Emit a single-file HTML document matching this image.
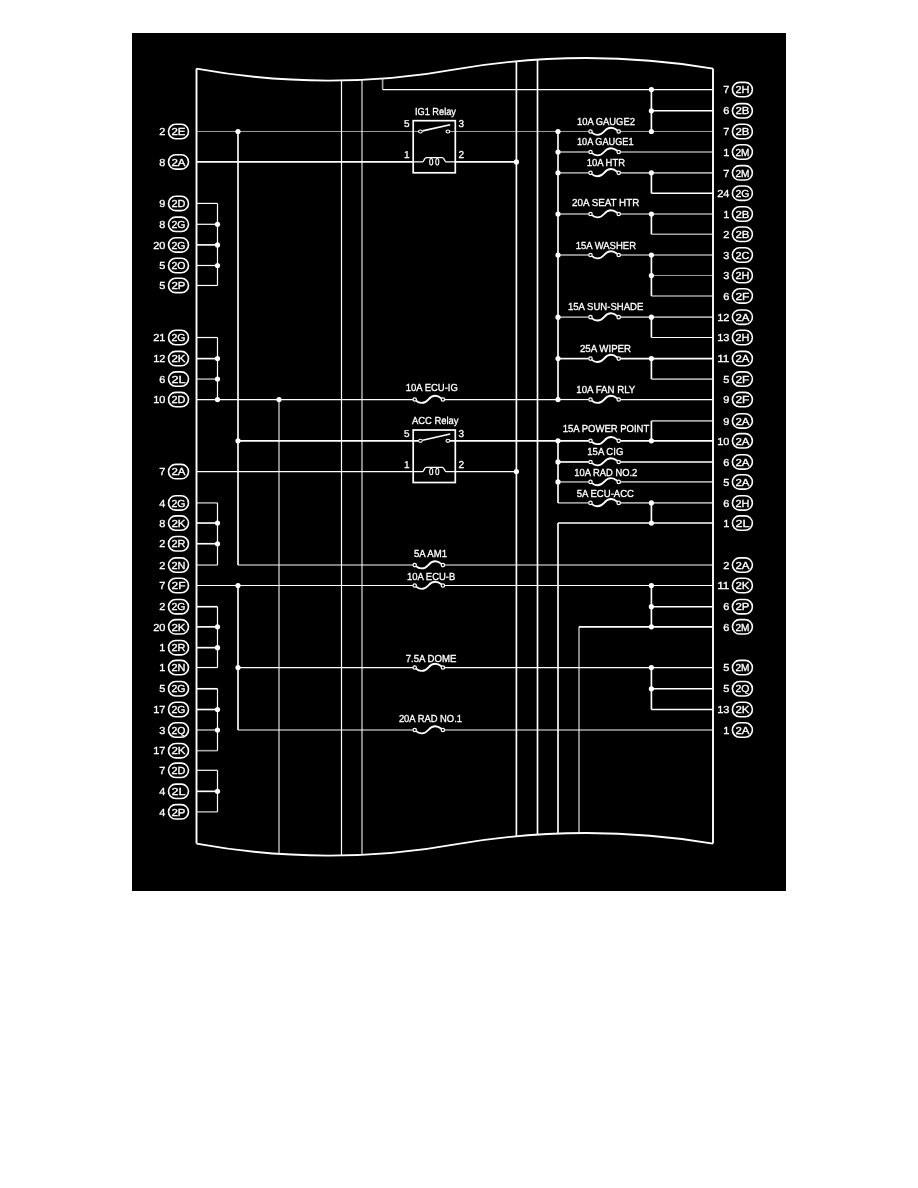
<!DOCTYPE html>
<html lang="en">
<head>
<meta charset="utf-8">
<title>Wiring Diagram</title>
<style>
html,body{margin:0;padding:0;background:#fff;}
body{width:918px;height:1188px;overflow:hidden;}
svg{display:block;position:absolute;left:0;top:0;}
svg{filter:grayscale(1);}
svg text{font-family:"Liberation Sans",Arial,Helvetica,sans-serif;fill:#fff;stroke:#fff;stroke-width:0.3px;text-rendering:geometricPrecision;}
</style>
</head>
<body>
<svg width="918" height="1188" viewBox="0 0 918 1188">
<rect x="132" y="33" width="654" height="858" fill="#000"/>
<path d="M196.5,68.6 C284.33,84.60 372.17,84.60 460.0,68.6 C544.33,54.50 628.67,54.50 713.0,68.6" fill="none" stroke="#fff" stroke-width="1.9"/>
<path d="M196.5,843.6 C284.33,859.60 372.17,859.60 460.0,843.6 C544.33,829.50 628.67,829.50 713.0,843.6" fill="none" stroke="#fff" stroke-width="1.9"/>
<line x1="196.5" y1="68.6" x2="196.5" y2="843.6" stroke="#fff" stroke-width="1.9"/>
<line x1="713.0" y1="68.6" x2="713.0" y2="843.6" stroke="#fff" stroke-width="1.9"/>
<line x1="279.0" y1="399.55" x2="279.0" y2="853.92" stroke="#fff" stroke-width="1.6" stroke-opacity="0.66"/>
<line x1="341.5" y1="80.48" x2="341.5" y2="855.48" stroke="#fff" stroke-width="1.2"/>
<line x1="362.0" y1="79.81" x2="362.0" y2="854.81" stroke="#fff" stroke-width="1.6" stroke-opacity="0.66"/>
<line x1="516.4" y1="61.27" x2="516.4" y2="836.27" stroke="#fff" stroke-width="1.65"/>
<line x1="537.5" y1="59.61" x2="537.5" y2="834.61" stroke="#fff" stroke-width="1.65"/>
<line x1="558.0" y1="523.04" x2="558.0" y2="833.56" stroke="#fff" stroke-width="1.65"/>
<line x1="579.0" y1="626.87" x2="579.0" y2="833.06" stroke="#fff" stroke-width="1.6" stroke-opacity="0.66"/>
<line x1="382.6" y1="78.56" x2="382.6" y2="89.55" stroke="#fff" stroke-width="1.6" stroke-opacity="0.66"/>
<line x1="382.6" y1="89.55" x2="713.0" y2="89.55" stroke="#fff" stroke-width="1.2"/>
<line x1="238.0" y1="131.48" x2="238.0" y2="565.06" stroke="#fff" stroke-width="1.65"/>
<line x1="238.0" y1="585.48" x2="238.0" y2="729.98" stroke="#fff" stroke-width="1.65"/>
<line x1="558.0" y1="131.48" x2="558.0" y2="399.55" stroke="#fff" stroke-width="1.65"/>
<line x1="558.0" y1="440.81" x2="558.0" y2="502.89" stroke="#fff" stroke-width="1.65"/>
<line x1="196.5" y1="131.48" x2="418.4" y2="131.48" stroke="#fff" stroke-width="1.0" stroke-opacity="0.62"/>
<line x1="449.9" y1="131.48" x2="588.7" y2="131.48" stroke="#fff" stroke-width="1.0" stroke-opacity="0.62"/>
<line x1="620.5" y1="131.48" x2="713.0" y2="131.48" stroke="#fff" stroke-width="1.0" stroke-opacity="0.62"/>
<circle cx="590.5" cy="131.48" r="1.7" fill="none" stroke="#fff" stroke-width="1.25"/>
<circle cx="618.7" cy="131.48" r="1.7" fill="none" stroke="#fff" stroke-width="1.25"/>
<path d="M592.00,132.68 C594.70,135.38 600.10,136.18 604.10,131.48 C608.00,126.98 612.50,126.48 617.20,130.28" fill="none" stroke="#fff" stroke-width="1.85"/>
<line x1="196.5" y1="161.89" x2="413.2" y2="161.89" stroke="#fff" stroke-width="1.65"/>
<line x1="455.3" y1="161.89" x2="516.4" y2="161.89" stroke="#fff" stroke-width="1.65"/>
<line x1="196.5" y1="399.55" x2="412.9" y2="399.55" stroke="#fff" stroke-width="1.2"/>
<line x1="444.70000000000005" y1="399.55" x2="558.0" y2="399.55" stroke="#fff" stroke-width="1.2"/>
<circle cx="414.7" cy="399.55" r="1.7" fill="none" stroke="#fff" stroke-width="1.25"/>
<circle cx="442.90000000000003" cy="399.55" r="1.7" fill="none" stroke="#fff" stroke-width="1.25"/>
<path d="M416.20,400.75 C418.90,403.45 424.30,404.25 428.30,399.55 C432.20,395.05 436.70,394.55 441.40,398.35" fill="none" stroke="#fff" stroke-width="1.85"/>
<line x1="558.0" y1="399.55" x2="588.7" y2="399.55" stroke="#fff" stroke-width="1.2"/>
<line x1="620.5" y1="399.55" x2="713.0" y2="399.55" stroke="#fff" stroke-width="1.2"/>
<circle cx="590.5" cy="399.55" r="1.7" fill="none" stroke="#fff" stroke-width="1.25"/>
<circle cx="618.7" cy="399.55" r="1.7" fill="none" stroke="#fff" stroke-width="1.25"/>
<path d="M592.00,400.75 C594.70,403.45 600.10,404.25 604.10,399.55 C608.00,395.05 612.50,394.55 617.20,398.35" fill="none" stroke="#fff" stroke-width="1.85"/>
<line x1="238.0" y1="440.81" x2="418.4" y2="440.81" stroke="#fff" stroke-width="1.65"/>
<line x1="449.9" y1="440.81" x2="588.7" y2="440.81" stroke="#fff" stroke-width="1.65"/>
<line x1="620.5" y1="440.81" x2="713.0" y2="440.81" stroke="#fff" stroke-width="1.65"/>
<circle cx="590.5" cy="440.81" r="1.7" fill="none" stroke="#fff" stroke-width="1.25"/>
<circle cx="618.7" cy="440.81" r="1.7" fill="none" stroke="#fff" stroke-width="1.25"/>
<path d="M592.00,442.01 C594.70,444.71 600.10,445.51 604.10,440.81 C608.00,436.31 612.50,435.81 617.20,439.61" fill="none" stroke="#fff" stroke-width="1.85"/>
<line x1="196.5" y1="471.62" x2="413.2" y2="471.62" stroke="#fff" stroke-width="1.2"/>
<line x1="455.3" y1="471.62" x2="516.4" y2="471.62" stroke="#fff" stroke-width="1.2"/>
<line x1="238.0" y1="565.06" x2="412.9" y2="565.06" stroke="#fff" stroke-width="1.6" stroke-opacity="0.66"/>
<line x1="444.70000000000005" y1="565.06" x2="713.0" y2="565.06" stroke="#fff" stroke-width="1.6" stroke-opacity="0.66"/>
<circle cx="414.7" cy="565.06" r="1.7" fill="none" stroke="#fff" stroke-width="1.25"/>
<circle cx="442.90000000000003" cy="565.06" r="1.7" fill="none" stroke="#fff" stroke-width="1.25"/>
<path d="M416.20,566.26 C418.90,568.96 424.30,569.76 428.30,565.06 C432.20,560.56 436.70,560.06 441.40,563.86" fill="none" stroke="#fff" stroke-width="1.85"/>
<line x1="196.5" y1="585.48" x2="412.9" y2="585.48" stroke="#fff" stroke-width="1.2"/>
<line x1="444.70000000000005" y1="585.48" x2="713.0" y2="585.48" stroke="#fff" stroke-width="1.2"/>
<circle cx="414.7" cy="585.48" r="1.7" fill="none" stroke="#fff" stroke-width="1.25"/>
<circle cx="442.90000000000003" cy="585.48" r="1.7" fill="none" stroke="#fff" stroke-width="1.25"/>
<path d="M416.20,586.68 C418.90,589.38 424.30,590.18 428.30,585.48 C432.20,580.98 436.70,580.48 441.40,584.28" fill="none" stroke="#fff" stroke-width="1.85"/>
<line x1="579.0" y1="626.87" x2="713.0" y2="626.87" stroke="#fff" stroke-width="1.65"/>
<line x1="238.0" y1="667.54" x2="412.9" y2="667.54" stroke="#fff" stroke-width="1.2"/>
<line x1="444.70000000000005" y1="667.54" x2="713.0" y2="667.54" stroke="#fff" stroke-width="1.2"/>
<circle cx="414.7" cy="667.54" r="1.7" fill="none" stroke="#fff" stroke-width="1.25"/>
<circle cx="442.90000000000003" cy="667.54" r="1.7" fill="none" stroke="#fff" stroke-width="1.25"/>
<path d="M416.20,668.74 C418.90,671.44 424.30,672.24 428.30,667.54 C432.20,663.04 436.70,662.54 441.40,666.34" fill="none" stroke="#fff" stroke-width="1.85"/>
<line x1="238.0" y1="729.98" x2="412.9" y2="729.98" stroke="#fff" stroke-width="1.6" stroke-opacity="0.66"/>
<line x1="444.70000000000005" y1="729.98" x2="713.0" y2="729.98" stroke="#fff" stroke-width="1.6" stroke-opacity="0.66"/>
<circle cx="414.7" cy="729.98" r="1.7" fill="none" stroke="#fff" stroke-width="1.25"/>
<circle cx="442.90000000000003" cy="729.98" r="1.7" fill="none" stroke="#fff" stroke-width="1.25"/>
<path d="M416.20,731.18 C418.90,733.88 424.30,734.68 428.30,729.98 C432.20,725.48 436.70,724.98 441.40,728.78" fill="none" stroke="#fff" stroke-width="1.85"/>
<line x1="558.0" y1="151.99" x2="588.7" y2="151.99" stroke="#fff" stroke-width="1.6" stroke-opacity="0.66"/>
<line x1="620.5" y1="151.99" x2="713.0" y2="151.99" stroke="#fff" stroke-width="1.6" stroke-opacity="0.66"/>
<circle cx="590.5" cy="151.99" r="1.7" fill="none" stroke="#fff" stroke-width="1.25"/>
<circle cx="618.7" cy="151.99" r="1.7" fill="none" stroke="#fff" stroke-width="1.25"/>
<path d="M592.00,153.19 C594.70,155.89 600.10,156.69 604.10,151.99 C608.00,147.49 612.50,146.99 617.20,150.79" fill="none" stroke="#fff" stroke-width="1.85"/>
<line x1="558.0" y1="172.87" x2="588.7" y2="172.87" stroke="#fff" stroke-width="1.6" stroke-opacity="0.66"/>
<line x1="620.5" y1="172.87" x2="713.0" y2="172.87" stroke="#fff" stroke-width="1.6" stroke-opacity="0.66"/>
<circle cx="590.5" cy="172.87" r="1.7" fill="none" stroke="#fff" stroke-width="1.25"/>
<circle cx="618.7" cy="172.87" r="1.7" fill="none" stroke="#fff" stroke-width="1.25"/>
<path d="M592.00,174.07 C594.70,176.77 600.10,177.57 604.10,172.87 C608.00,168.37 612.50,167.87 617.20,171.67" fill="none" stroke="#fff" stroke-width="1.85"/>
<line x1="558.0" y1="213.99" x2="588.7" y2="213.99" stroke="#fff" stroke-width="1.6" stroke-opacity="0.66"/>
<line x1="620.5" y1="213.99" x2="713.0" y2="213.99" stroke="#fff" stroke-width="1.6" stroke-opacity="0.66"/>
<circle cx="590.5" cy="213.99" r="1.7" fill="none" stroke="#fff" stroke-width="1.25"/>
<circle cx="618.7" cy="213.99" r="1.7" fill="none" stroke="#fff" stroke-width="1.25"/>
<path d="M592.00,215.19 C594.70,217.89 600.10,218.69 604.10,213.99 C608.00,209.49 612.50,208.99 617.20,212.79" fill="none" stroke="#fff" stroke-width="1.85"/>
<line x1="558.0" y1="255.01" x2="588.7" y2="255.01" stroke="#fff" stroke-width="1.6" stroke-opacity="0.66"/>
<line x1="620.5" y1="255.01" x2="713.0" y2="255.01" stroke="#fff" stroke-width="1.6" stroke-opacity="0.66"/>
<circle cx="590.5" cy="255.01" r="1.7" fill="none" stroke="#fff" stroke-width="1.25"/>
<circle cx="618.7" cy="255.01" r="1.7" fill="none" stroke="#fff" stroke-width="1.25"/>
<path d="M592.00,256.21 C594.70,258.91 600.10,259.71 604.10,255.01 C608.00,250.51 612.50,250.01 617.20,253.81" fill="none" stroke="#fff" stroke-width="1.85"/>
<line x1="558.0" y1="317.14" x2="588.7" y2="317.14" stroke="#fff" stroke-width="1.6" stroke-opacity="0.66"/>
<line x1="620.5" y1="317.14" x2="713.0" y2="317.14" stroke="#fff" stroke-width="1.6" stroke-opacity="0.66"/>
<circle cx="590.5" cy="317.14" r="1.7" fill="none" stroke="#fff" stroke-width="1.25"/>
<circle cx="618.7" cy="317.14" r="1.7" fill="none" stroke="#fff" stroke-width="1.25"/>
<path d="M592.00,318.34 C594.70,321.04 600.10,321.84 604.10,317.14 C608.00,312.64 612.50,312.14 617.20,315.94" fill="none" stroke="#fff" stroke-width="1.85"/>
<line x1="558.0" y1="358.62" x2="588.7" y2="358.62" stroke="#fff" stroke-width="1.65"/>
<line x1="620.5" y1="358.62" x2="713.0" y2="358.62" stroke="#fff" stroke-width="1.65"/>
<circle cx="590.5" cy="358.62" r="1.7" fill="none" stroke="#fff" stroke-width="1.25"/>
<circle cx="618.7" cy="358.62" r="1.7" fill="none" stroke="#fff" stroke-width="1.25"/>
<path d="M592.00,359.82 C594.70,362.52 600.10,363.32 604.10,358.62 C608.00,354.12 612.50,353.62 617.20,357.42" fill="none" stroke="#fff" stroke-width="1.85"/>
<line x1="558.0" y1="461.95" x2="588.7" y2="461.95" stroke="#fff" stroke-width="1.65"/>
<line x1="620.5" y1="461.95" x2="713.0" y2="461.95" stroke="#fff" stroke-width="1.65"/>
<circle cx="590.5" cy="461.95" r="1.7" fill="none" stroke="#fff" stroke-width="1.25"/>
<circle cx="618.7" cy="461.95" r="1.7" fill="none" stroke="#fff" stroke-width="1.25"/>
<path d="M592.00,463.15 C594.70,465.85 600.10,466.65 604.10,461.95 C608.00,457.45 612.50,456.95 617.20,460.75" fill="none" stroke="#fff" stroke-width="1.85"/>
<line x1="558.0" y1="481.92" x2="588.7" y2="481.92" stroke="#fff" stroke-width="1.6" stroke-opacity="0.66"/>
<line x1="620.5" y1="481.92" x2="713.0" y2="481.92" stroke="#fff" stroke-width="1.6" stroke-opacity="0.66"/>
<circle cx="590.5" cy="481.92" r="1.7" fill="none" stroke="#fff" stroke-width="1.25"/>
<circle cx="618.7" cy="481.92" r="1.7" fill="none" stroke="#fff" stroke-width="1.25"/>
<path d="M592.00,483.12 C594.70,485.82 600.10,486.62 604.10,481.92 C608.00,477.42 612.50,476.92 617.20,480.72" fill="none" stroke="#fff" stroke-width="1.85"/>
<line x1="558.0" y1="502.89" x2="588.7" y2="502.89" stroke="#fff" stroke-width="1.6" stroke-opacity="0.66"/>
<line x1="620.5" y1="502.89" x2="713.0" y2="502.89" stroke="#fff" stroke-width="1.6" stroke-opacity="0.66"/>
<circle cx="590.5" cy="502.89" r="1.7" fill="none" stroke="#fff" stroke-width="1.25"/>
<circle cx="618.7" cy="502.89" r="1.7" fill="none" stroke="#fff" stroke-width="1.25"/>
<path d="M592.00,504.09 C594.70,506.79 600.10,507.59 604.10,502.89 C608.00,498.39 612.50,497.89 617.20,501.69" fill="none" stroke="#fff" stroke-width="1.85"/>
<line x1="558.0" y1="523.04" x2="713.0" y2="523.04" stroke="#fff" stroke-width="1.65"/>
<line x1="651.4" y1="110.79" x2="713.0" y2="110.79" stroke="#fff" stroke-width="1.65"/>
<line x1="651.4" y1="193.2" x2="713.0" y2="193.2" stroke="#fff" stroke-width="1.65"/>
<line x1="651.4" y1="234.23" x2="713.0" y2="234.23" stroke="#fff" stroke-width="1.6" stroke-opacity="0.66"/>
<line x1="651.4" y1="275.48" x2="713.0" y2="275.48" stroke="#fff" stroke-width="1.0" stroke-opacity="0.62"/>
<line x1="651.4" y1="295.95" x2="713.0" y2="295.95" stroke="#fff" stroke-width="1.6" stroke-opacity="0.66"/>
<line x1="651.4" y1="337.52" x2="713.0" y2="337.52" stroke="#fff" stroke-width="1.2"/>
<line x1="651.4" y1="379.08" x2="713.0" y2="379.08" stroke="#fff" stroke-width="1.6" stroke-opacity="0.66"/>
<line x1="651.4" y1="420.88" x2="713.0" y2="420.88" stroke="#fff" stroke-width="1.6" stroke-opacity="0.66"/>
<line x1="651.4" y1="606.72" x2="713.0" y2="606.72" stroke="#fff" stroke-width="1.65"/>
<line x1="651.4" y1="688.77" x2="713.0" y2="688.77" stroke="#fff" stroke-width="1.65"/>
<line x1="651.4" y1="709.51" x2="713.0" y2="709.51" stroke="#fff" stroke-width="1.65"/>
<line x1="651.4" y1="89.55" x2="651.4" y2="131.48" stroke="#fff" stroke-width="1.65"/>
<line x1="651.4" y1="172.87" x2="651.4" y2="193.2" stroke="#fff" stroke-width="1.65"/>
<line x1="651.4" y1="213.99" x2="651.4" y2="234.23" stroke="#fff" stroke-width="1.65"/>
<line x1="651.4" y1="255.01" x2="651.4" y2="295.95" stroke="#fff" stroke-width="1.65"/>
<line x1="651.4" y1="317.14" x2="651.4" y2="337.52" stroke="#fff" stroke-width="1.65"/>
<line x1="651.4" y1="358.62" x2="651.4" y2="379.08" stroke="#fff" stroke-width="1.65"/>
<line x1="651.4" y1="420.88" x2="651.4" y2="440.81" stroke="#fff" stroke-width="1.65"/>
<line x1="651.4" y1="502.89" x2="651.4" y2="523.04" stroke="#fff" stroke-width="1.65"/>
<line x1="651.4" y1="585.48" x2="651.4" y2="626.87" stroke="#fff" stroke-width="1.65"/>
<line x1="651.4" y1="667.54" x2="651.4" y2="709.51" stroke="#fff" stroke-width="1.65"/>
<line x1="196.5" y1="203.41" x2="217.5" y2="203.41" stroke="#fff" stroke-width="1.2"/>
<line x1="196.5" y1="224.29" x2="217.5" y2="224.29" stroke="#fff" stroke-width="1.2"/>
<line x1="196.5" y1="244.89" x2="217.5" y2="244.89" stroke="#fff" stroke-width="1.65"/>
<line x1="196.5" y1="265.49" x2="217.5" y2="265.49" stroke="#fff" stroke-width="1.2"/>
<line x1="196.5" y1="285.47" x2="217.5" y2="285.47" stroke="#fff" stroke-width="1.2"/>
<line x1="217.5" y1="203.41" x2="217.5" y2="285.47" stroke="#fff" stroke-width="1.2"/>
<line x1="196.5" y1="337.52" x2="217.5" y2="337.52" stroke="#fff" stroke-width="1.2"/>
<line x1="196.5" y1="358.62" x2="217.5" y2="358.62" stroke="#fff" stroke-width="1.65"/>
<line x1="196.5" y1="379.08" x2="217.5" y2="379.08" stroke="#fff" stroke-width="1.6" stroke-opacity="0.66"/>
<line x1="217.5" y1="337.52" x2="217.5" y2="399.55" stroke="#fff" stroke-width="1.2"/>
<line x1="196.5" y1="502.89" x2="217.5" y2="502.89" stroke="#fff" stroke-width="1.6" stroke-opacity="0.66"/>
<line x1="196.5" y1="523.04" x2="217.5" y2="523.04" stroke="#fff" stroke-width="1.65"/>
<line x1="196.5" y1="543.73" x2="217.5" y2="543.73" stroke="#fff" stroke-width="1.65"/>
<line x1="196.5" y1="565.06" x2="217.5" y2="565.06" stroke="#fff" stroke-width="1.6" stroke-opacity="0.66"/>
<line x1="217.5" y1="502.89" x2="217.5" y2="565.06" stroke="#fff" stroke-width="1.2"/>
<line x1="196.5" y1="606.72" x2="217.5" y2="606.72" stroke="#fff" stroke-width="1.65"/>
<line x1="196.5" y1="626.87" x2="217.5" y2="626.87" stroke="#fff" stroke-width="1.65"/>
<line x1="196.5" y1="647.65" x2="217.5" y2="647.65" stroke="#fff" stroke-width="1.65"/>
<line x1="196.5" y1="667.54" x2="217.5" y2="667.54" stroke="#fff" stroke-width="1.2"/>
<line x1="217.5" y1="606.72" x2="217.5" y2="667.54" stroke="#fff" stroke-width="1.2"/>
<line x1="196.5" y1="688.77" x2="217.5" y2="688.77" stroke="#fff" stroke-width="1.65"/>
<line x1="196.5" y1="709.51" x2="217.5" y2="709.51" stroke="#fff" stroke-width="1.65"/>
<line x1="196.5" y1="729.98" x2="217.5" y2="729.98" stroke="#fff" stroke-width="1.6" stroke-opacity="0.66"/>
<line x1="196.5" y1="750.67" x2="217.5" y2="750.67" stroke="#fff" stroke-width="1.6" stroke-opacity="0.66"/>
<line x1="217.5" y1="688.77" x2="217.5" y2="750.67" stroke="#fff" stroke-width="1.2"/>
<line x1="196.5" y1="770.29" x2="217.5" y2="770.29" stroke="#fff" stroke-width="1.2"/>
<line x1="196.5" y1="791.34" x2="217.5" y2="791.34" stroke="#fff" stroke-width="1.65"/>
<line x1="196.5" y1="811.85" x2="217.5" y2="811.85" stroke="#fff" stroke-width="1.6" stroke-opacity="0.66"/>
<line x1="217.5" y1="770.29" x2="217.5" y2="811.85" stroke="#fff" stroke-width="1.2"/>
<circle cx="217.5" cy="224.29" r="2.6" fill="#fff"/>
<circle cx="217.5" cy="244.89" r="2.6" fill="#fff"/>
<circle cx="217.5" cy="265.49" r="2.6" fill="#fff"/>
<circle cx="217.5" cy="358.62" r="2.6" fill="#fff"/>
<circle cx="217.5" cy="379.08" r="2.6" fill="#fff"/>
<circle cx="217.5" cy="523.04" r="2.6" fill="#fff"/>
<circle cx="217.5" cy="543.73" r="2.6" fill="#fff"/>
<circle cx="217.5" cy="626.87" r="2.6" fill="#fff"/>
<circle cx="217.5" cy="647.65" r="2.6" fill="#fff"/>
<circle cx="217.5" cy="709.51" r="2.6" fill="#fff"/>
<circle cx="217.5" cy="729.98" r="2.6" fill="#fff"/>
<circle cx="217.5" cy="791.34" r="2.6" fill="#fff"/>
<circle cx="217.5" cy="399.55" r="2.6" fill="#fff"/>
<circle cx="279.0" cy="399.55" r="2.6" fill="#fff"/>
<circle cx="238.0" cy="131.48" r="2.6" fill="#fff"/>
<circle cx="238.0" cy="440.81" r="2.6" fill="#fff"/>
<circle cx="238.0" cy="585.48" r="2.6" fill="#fff"/>
<circle cx="238.0" cy="667.54" r="2.6" fill="#fff"/>
<circle cx="516.4" cy="161.89" r="2.6" fill="#fff"/>
<circle cx="516.4" cy="471.62" r="2.6" fill="#fff"/>
<circle cx="558.0" cy="131.48" r="2.6" fill="#fff"/>
<circle cx="558.0" cy="151.99" r="2.6" fill="#fff"/>
<circle cx="558.0" cy="172.87" r="2.6" fill="#fff"/>
<circle cx="558.0" cy="213.99" r="2.6" fill="#fff"/>
<circle cx="558.0" cy="255.01" r="2.6" fill="#fff"/>
<circle cx="558.0" cy="317.14" r="2.6" fill="#fff"/>
<circle cx="558.0" cy="358.62" r="2.6" fill="#fff"/>
<circle cx="558.0" cy="399.55" r="2.6" fill="#fff"/>
<circle cx="558.0" cy="440.81" r="2.6" fill="#fff"/>
<circle cx="558.0" cy="461.95" r="2.6" fill="#fff"/>
<circle cx="558.0" cy="481.92" r="2.6" fill="#fff"/>
<circle cx="651.4" cy="89.55" r="2.6" fill="#fff"/>
<circle cx="651.4" cy="110.79" r="2.6" fill="#fff"/>
<circle cx="651.4" cy="131.48" r="2.6" fill="#fff"/>
<circle cx="651.4" cy="172.87" r="2.6" fill="#fff"/>
<circle cx="651.4" cy="213.99" r="2.6" fill="#fff"/>
<circle cx="651.4" cy="255.01" r="2.6" fill="#fff"/>
<circle cx="651.4" cy="275.48" r="2.6" fill="#fff"/>
<circle cx="651.4" cy="317.14" r="2.6" fill="#fff"/>
<circle cx="651.4" cy="358.62" r="2.6" fill="#fff"/>
<circle cx="651.4" cy="440.81" r="2.6" fill="#fff"/>
<circle cx="651.4" cy="502.89" r="2.6" fill="#fff"/>
<circle cx="651.4" cy="523.04" r="2.6" fill="#fff"/>
<circle cx="651.4" cy="585.48" r="2.6" fill="#fff"/>
<circle cx="651.4" cy="606.72" r="2.6" fill="#fff"/>
<circle cx="651.4" cy="626.87" r="2.6" fill="#fff"/>
<circle cx="651.4" cy="667.54" r="2.6" fill="#fff"/>
<circle cx="651.4" cy="688.77" r="2.6" fill="#fff"/>
<rect x="413.2" y="120.68" width="42.10" height="52.11" fill="none" stroke="#fff" stroke-width="1.7"/>
<ellipse cx="420.4" cy="131.48" rx="1.9" ry="1.55" fill="none" stroke="#fff" stroke-width="1.1"/>
<ellipse cx="447.9" cy="131.48" rx="1.9" ry="1.55" fill="none" stroke="#fff" stroke-width="1.1"/>
<line x1="422.6" y1="130.88" x2="450.2" y2="124.68" stroke="#fff" stroke-width="1.65"/>
<path d="M413.2,161.89 H422.6 C424.0,161.89 424.0,157.59 426.4,157.59 H442.2 C444.6,157.59 444.6,161.89 446.0,161.89 H455.3" fill="none" stroke="#fff" stroke-width="1.35"/>
<ellipse cx="431.2" cy="161.79" rx="1.55" ry="3.3" fill="none" stroke="#fff" stroke-width="1.1"/>
<ellipse cx="437.3" cy="161.79" rx="1.55" ry="3.3" fill="none" stroke="#fff" stroke-width="1.1"/>
<text x="406.7" y="127.38" font-size="10.0" text-anchor="middle">5</text>
<text x="461.2" y="127.38" font-size="10.0" text-anchor="middle">3</text>
<text x="406.7" y="158.29" font-size="10.0" text-anchor="middle">1</text>
<text x="461.2" y="158.29" font-size="10.0" text-anchor="middle">2</text>
<text x="414.9" y="115.2" font-size="10.2" text-anchor="start" textLength="41.1" lengthAdjust="spacingAndGlyphs">IG1 Relay</text>
<rect x="413.2" y="430.01" width="42.10" height="52.51" fill="none" stroke="#fff" stroke-width="1.7"/>
<ellipse cx="420.4" cy="440.81" rx="1.9" ry="1.55" fill="none" stroke="#fff" stroke-width="1.1"/>
<ellipse cx="447.9" cy="440.81" rx="1.9" ry="1.55" fill="none" stroke="#fff" stroke-width="1.1"/>
<line x1="422.6" y1="440.21" x2="450.2" y2="434.01" stroke="#fff" stroke-width="1.65"/>
<path d="M413.2,471.62 H422.6 C424.0,471.62 424.0,467.32 426.4,467.32 H442.2 C444.6,467.32 444.6,471.62 446.0,471.62 H455.3" fill="none" stroke="#fff" stroke-width="1.35"/>
<ellipse cx="431.2" cy="471.52" rx="1.55" ry="3.3" fill="none" stroke="#fff" stroke-width="1.1"/>
<ellipse cx="437.3" cy="471.52" rx="1.55" ry="3.3" fill="none" stroke="#fff" stroke-width="1.1"/>
<text x="406.7" y="436.71" font-size="10.0" text-anchor="middle">5</text>
<text x="461.2" y="436.71" font-size="10.0" text-anchor="middle">3</text>
<text x="406.7" y="468.02" font-size="10.0" text-anchor="middle">1</text>
<text x="461.2" y="468.02" font-size="10.0" text-anchor="middle">2</text>
<text x="411.9" y="424.3" font-size="10.2" text-anchor="start" textLength="46.6" lengthAdjust="spacingAndGlyphs">ACC Relay</text>
<text x="405.7" y="391.35" font-size="10.2" text-anchor="start" textLength="52.1" lengthAdjust="spacingAndGlyphs">10A ECU-IG</text>
<text x="413.9" y="557.05" font-size="10.2" text-anchor="start" textLength="33.1" lengthAdjust="spacingAndGlyphs">5A AM1</text>
<text x="406.9" y="579.65" font-size="10.2" text-anchor="start" textLength="48.4" lengthAdjust="spacingAndGlyphs">10A ECU-B</text>
<text x="405.7" y="662.05" font-size="10.2" text-anchor="start" textLength="50.8" lengthAdjust="spacingAndGlyphs">7.5A DOME</text>
<text x="398.9" y="722.45" font-size="10.2" text-anchor="start" textLength="63.1" lengthAdjust="spacingAndGlyphs">20A RAD NO.1</text>
<text x="577.0" y="125.05" font-size="10.2" text-anchor="start" textLength="57.9" lengthAdjust="spacingAndGlyphs">10A GAUGE2</text>
<text x="577.0" y="145.45" font-size="10.2" text-anchor="start" textLength="56.5" lengthAdjust="spacingAndGlyphs">10A GAUGE1</text>
<text x="586.7" y="165.85" font-size="10.2" text-anchor="start" textLength="38.3" lengthAdjust="spacingAndGlyphs">10A HTR</text>
<text x="572.0" y="205.85" font-size="10.2" text-anchor="start" textLength="67.3" lengthAdjust="spacingAndGlyphs">20A SEAT HTR</text>
<text x="575.7" y="249.25" font-size="10.2" text-anchor="start" textLength="60.3" lengthAdjust="spacingAndGlyphs">15A WASHER</text>
<text x="568.0" y="309.85" font-size="10.2" text-anchor="start" textLength="75.3" lengthAdjust="spacingAndGlyphs">15A SUN-SHADE</text>
<text x="580.0" y="351.55" font-size="10.2" text-anchor="start" textLength="51.0" lengthAdjust="spacingAndGlyphs">25A WIPER</text>
<text x="576.3" y="392.55" font-size="10.2" text-anchor="start" textLength="59.0" lengthAdjust="spacingAndGlyphs">10A FAN RLY</text>
<text x="562.7" y="432.25" font-size="10.2" text-anchor="start" textLength="86.6" lengthAdjust="spacingAndGlyphs">15A POWER POINT</text>
<text x="587.3" y="454.55" font-size="10.2" text-anchor="start" textLength="36.0" lengthAdjust="spacingAndGlyphs">15A CIG</text>
<text x="574.3" y="475.55" font-size="10.2" text-anchor="start" textLength="63.0" lengthAdjust="spacingAndGlyphs">10A RAD NO.2</text>
<text x="576.7" y="496.55" font-size="10.2" text-anchor="start" textLength="57.3" lengthAdjust="spacingAndGlyphs">5A ECU-ACC</text>
<rect x="168.50" y="124.28" width="20.0" height="14.4" rx="7.2" ry="7.2" fill="none" stroke="#fff" stroke-width="1.6"/>
<text x="178.5" y="135.18" font-size="10.2" text-anchor="middle" textLength="14.0" lengthAdjust="spacingAndGlyphs">2E</text>
<text x="165.4" y="135.18" font-size="10.2" text-anchor="end" textLength="6.1" lengthAdjust="spacingAndGlyphs">2</text>
<rect x="168.50" y="154.69" width="20.0" height="14.4" rx="7.2" ry="7.2" fill="none" stroke="#fff" stroke-width="1.6"/>
<text x="178.5" y="165.59" font-size="10.2" text-anchor="middle" textLength="14.0" lengthAdjust="spacingAndGlyphs">2A</text>
<text x="165.4" y="165.59" font-size="10.2" text-anchor="end" textLength="6.1" lengthAdjust="spacingAndGlyphs">8</text>
<rect x="168.50" y="196.21" width="20.0" height="14.4" rx="7.2" ry="7.2" fill="none" stroke="#fff" stroke-width="1.6"/>
<text x="178.5" y="207.11" font-size="10.2" text-anchor="middle" textLength="14.0" lengthAdjust="spacingAndGlyphs">2D</text>
<text x="165.4" y="207.11" font-size="10.2" text-anchor="end" textLength="6.1" lengthAdjust="spacingAndGlyphs">9</text>
<rect x="168.50" y="217.09" width="20.0" height="14.4" rx="7.2" ry="7.2" fill="none" stroke="#fff" stroke-width="1.6"/>
<text x="178.5" y="227.99" font-size="10.2" text-anchor="middle" textLength="14.0" lengthAdjust="spacingAndGlyphs">2G</text>
<text x="165.4" y="227.99" font-size="10.2" text-anchor="end" textLength="6.1" lengthAdjust="spacingAndGlyphs">8</text>
<rect x="168.50" y="237.69" width="20.0" height="14.4" rx="7.2" ry="7.2" fill="none" stroke="#fff" stroke-width="1.6"/>
<text x="178.5" y="248.59" font-size="10.2" text-anchor="middle" textLength="14.0" lengthAdjust="spacingAndGlyphs">2G</text>
<text x="165.4" y="248.59" font-size="10.2" text-anchor="end" textLength="12.2" lengthAdjust="spacingAndGlyphs">20</text>
<rect x="168.50" y="258.29" width="20.0" height="14.4" rx="7.2" ry="7.2" fill="none" stroke="#fff" stroke-width="1.6"/>
<text x="178.5" y="269.19" font-size="10.2" text-anchor="middle" textLength="14.0" lengthAdjust="spacingAndGlyphs">2O</text>
<text x="165.4" y="269.19" font-size="10.2" text-anchor="end" textLength="6.1" lengthAdjust="spacingAndGlyphs">5</text>
<rect x="168.50" y="278.27" width="20.0" height="14.4" rx="7.2" ry="7.2" fill="none" stroke="#fff" stroke-width="1.6"/>
<text x="178.5" y="289.17" font-size="10.2" text-anchor="middle" textLength="14.0" lengthAdjust="spacingAndGlyphs">2P</text>
<text x="165.4" y="289.17" font-size="10.2" text-anchor="end" textLength="6.1" lengthAdjust="spacingAndGlyphs">5</text>
<rect x="168.50" y="330.32" width="20.0" height="14.4" rx="7.2" ry="7.2" fill="none" stroke="#fff" stroke-width="1.6"/>
<text x="178.5" y="341.22" font-size="10.2" text-anchor="middle" textLength="14.0" lengthAdjust="spacingAndGlyphs">2G</text>
<text x="165.4" y="341.22" font-size="10.2" text-anchor="end" textLength="12.2" lengthAdjust="spacingAndGlyphs">21</text>
<rect x="168.50" y="351.42" width="20.0" height="14.4" rx="7.2" ry="7.2" fill="none" stroke="#fff" stroke-width="1.6"/>
<text x="178.5" y="362.32" font-size="10.2" text-anchor="middle" textLength="14.0" lengthAdjust="spacingAndGlyphs">2K</text>
<text x="165.4" y="362.32" font-size="10.2" text-anchor="end" textLength="12.2" lengthAdjust="spacingAndGlyphs">12</text>
<rect x="168.50" y="371.88" width="20.0" height="14.4" rx="7.2" ry="7.2" fill="none" stroke="#fff" stroke-width="1.6"/>
<text x="178.5" y="382.78" font-size="10.2" text-anchor="middle" textLength="14.0" lengthAdjust="spacingAndGlyphs">2L</text>
<text x="165.4" y="382.78" font-size="10.2" text-anchor="end" textLength="6.1" lengthAdjust="spacingAndGlyphs">6</text>
<rect x="168.50" y="392.35" width="20.0" height="14.4" rx="7.2" ry="7.2" fill="none" stroke="#fff" stroke-width="1.6"/>
<text x="178.5" y="403.25" font-size="10.2" text-anchor="middle" textLength="14.0" lengthAdjust="spacingAndGlyphs">2D</text>
<text x="165.4" y="403.25" font-size="10.2" text-anchor="end" textLength="12.2" lengthAdjust="spacingAndGlyphs">10</text>
<rect x="168.50" y="464.42" width="20.0" height="14.4" rx="7.2" ry="7.2" fill="none" stroke="#fff" stroke-width="1.6"/>
<text x="178.5" y="475.32" font-size="10.2" text-anchor="middle" textLength="14.0" lengthAdjust="spacingAndGlyphs">2A</text>
<text x="165.4" y="475.32" font-size="10.2" text-anchor="end" textLength="6.1" lengthAdjust="spacingAndGlyphs">7</text>
<rect x="168.50" y="495.69" width="20.0" height="14.4" rx="7.2" ry="7.2" fill="none" stroke="#fff" stroke-width="1.6"/>
<text x="178.5" y="506.59" font-size="10.2" text-anchor="middle" textLength="14.0" lengthAdjust="spacingAndGlyphs">2G</text>
<text x="165.4" y="506.59" font-size="10.2" text-anchor="end" textLength="6.1" lengthAdjust="spacingAndGlyphs">4</text>
<rect x="168.50" y="515.84" width="20.0" height="14.4" rx="7.2" ry="7.2" fill="none" stroke="#fff" stroke-width="1.6"/>
<text x="178.5" y="526.74" font-size="10.2" text-anchor="middle" textLength="14.0" lengthAdjust="spacingAndGlyphs">2K</text>
<text x="165.4" y="526.74" font-size="10.2" text-anchor="end" textLength="6.1" lengthAdjust="spacingAndGlyphs">8</text>
<rect x="168.50" y="536.53" width="20.0" height="14.4" rx="7.2" ry="7.2" fill="none" stroke="#fff" stroke-width="1.6"/>
<text x="178.5" y="547.43" font-size="10.2" text-anchor="middle" textLength="14.0" lengthAdjust="spacingAndGlyphs">2R</text>
<text x="165.4" y="547.43" font-size="10.2" text-anchor="end" textLength="6.1" lengthAdjust="spacingAndGlyphs">2</text>
<rect x="168.50" y="557.86" width="20.0" height="14.4" rx="7.2" ry="7.2" fill="none" stroke="#fff" stroke-width="1.6"/>
<text x="178.5" y="568.76" font-size="10.2" text-anchor="middle" textLength="14.0" lengthAdjust="spacingAndGlyphs">2N</text>
<text x="165.4" y="568.76" font-size="10.2" text-anchor="end" textLength="6.1" lengthAdjust="spacingAndGlyphs">2</text>
<rect x="168.50" y="578.28" width="20.0" height="14.4" rx="7.2" ry="7.2" fill="none" stroke="#fff" stroke-width="1.6"/>
<text x="178.5" y="589.18" font-size="10.2" text-anchor="middle" textLength="14.0" lengthAdjust="spacingAndGlyphs">2F</text>
<text x="165.4" y="589.18" font-size="10.2" text-anchor="end" textLength="6.1" lengthAdjust="spacingAndGlyphs">7</text>
<rect x="168.50" y="599.52" width="20.0" height="14.4" rx="7.2" ry="7.2" fill="none" stroke="#fff" stroke-width="1.6"/>
<text x="178.5" y="610.42" font-size="10.2" text-anchor="middle" textLength="14.0" lengthAdjust="spacingAndGlyphs">2G</text>
<text x="165.4" y="610.42" font-size="10.2" text-anchor="end" textLength="6.1" lengthAdjust="spacingAndGlyphs">2</text>
<rect x="168.50" y="619.67" width="20.0" height="14.4" rx="7.2" ry="7.2" fill="none" stroke="#fff" stroke-width="1.6"/>
<text x="178.5" y="630.57" font-size="10.2" text-anchor="middle" textLength="14.0" lengthAdjust="spacingAndGlyphs">2K</text>
<text x="165.4" y="630.57" font-size="10.2" text-anchor="end" textLength="12.2" lengthAdjust="spacingAndGlyphs">20</text>
<rect x="168.50" y="640.45" width="20.0" height="14.4" rx="7.2" ry="7.2" fill="none" stroke="#fff" stroke-width="1.6"/>
<text x="178.5" y="651.35" font-size="10.2" text-anchor="middle" textLength="14.0" lengthAdjust="spacingAndGlyphs">2R</text>
<text x="165.4" y="651.35" font-size="10.2" text-anchor="end" textLength="6.1" lengthAdjust="spacingAndGlyphs">1</text>
<rect x="168.50" y="660.34" width="20.0" height="14.4" rx="7.2" ry="7.2" fill="none" stroke="#fff" stroke-width="1.6"/>
<text x="178.5" y="671.24" font-size="10.2" text-anchor="middle" textLength="14.0" lengthAdjust="spacingAndGlyphs">2N</text>
<text x="165.4" y="671.24" font-size="10.2" text-anchor="end" textLength="6.1" lengthAdjust="spacingAndGlyphs">1</text>
<rect x="168.50" y="681.57" width="20.0" height="14.4" rx="7.2" ry="7.2" fill="none" stroke="#fff" stroke-width="1.6"/>
<text x="178.5" y="692.47" font-size="10.2" text-anchor="middle" textLength="14.0" lengthAdjust="spacingAndGlyphs">2G</text>
<text x="165.4" y="692.47" font-size="10.2" text-anchor="end" textLength="6.1" lengthAdjust="spacingAndGlyphs">5</text>
<rect x="168.50" y="702.31" width="20.0" height="14.4" rx="7.2" ry="7.2" fill="none" stroke="#fff" stroke-width="1.6"/>
<text x="178.5" y="713.21" font-size="10.2" text-anchor="middle" textLength="14.0" lengthAdjust="spacingAndGlyphs">2G</text>
<text x="165.4" y="713.21" font-size="10.2" text-anchor="end" textLength="12.2" lengthAdjust="spacingAndGlyphs">17</text>
<rect x="168.50" y="722.78" width="20.0" height="14.4" rx="7.2" ry="7.2" fill="none" stroke="#fff" stroke-width="1.6"/>
<text x="178.5" y="733.68" font-size="10.2" text-anchor="middle" textLength="14.0" lengthAdjust="spacingAndGlyphs">2Q</text>
<text x="165.4" y="733.68" font-size="10.2" text-anchor="end" textLength="6.1" lengthAdjust="spacingAndGlyphs">3</text>
<rect x="168.50" y="743.47" width="20.0" height="14.4" rx="7.2" ry="7.2" fill="none" stroke="#fff" stroke-width="1.6"/>
<text x="178.5" y="754.37" font-size="10.2" text-anchor="middle" textLength="14.0" lengthAdjust="spacingAndGlyphs">2K</text>
<text x="165.4" y="754.37" font-size="10.2" text-anchor="end" textLength="12.2" lengthAdjust="spacingAndGlyphs">17</text>
<rect x="168.50" y="763.09" width="20.0" height="14.4" rx="7.2" ry="7.2" fill="none" stroke="#fff" stroke-width="1.6"/>
<text x="178.5" y="773.99" font-size="10.2" text-anchor="middle" textLength="14.0" lengthAdjust="spacingAndGlyphs">2D</text>
<text x="165.4" y="773.99" font-size="10.2" text-anchor="end" textLength="6.1" lengthAdjust="spacingAndGlyphs">7</text>
<rect x="168.50" y="784.14" width="20.0" height="14.4" rx="7.2" ry="7.2" fill="none" stroke="#fff" stroke-width="1.6"/>
<text x="178.5" y="795.04" font-size="10.2" text-anchor="middle" textLength="14.0" lengthAdjust="spacingAndGlyphs">2L</text>
<text x="165.4" y="795.04" font-size="10.2" text-anchor="end" textLength="6.1" lengthAdjust="spacingAndGlyphs">4</text>
<rect x="168.50" y="804.65" width="20.0" height="14.4" rx="7.2" ry="7.2" fill="none" stroke="#fff" stroke-width="1.6"/>
<text x="178.5" y="815.55" font-size="10.2" text-anchor="middle" textLength="14.0" lengthAdjust="spacingAndGlyphs">2P</text>
<text x="165.4" y="815.55" font-size="10.2" text-anchor="end" textLength="6.1" lengthAdjust="spacingAndGlyphs">4</text>
<rect x="732.40" y="82.35" width="20.0" height="14.4" rx="7.2" ry="7.2" fill="none" stroke="#fff" stroke-width="1.6"/>
<text x="742.4" y="93.25" font-size="10.2" text-anchor="middle" textLength="14.0" lengthAdjust="spacingAndGlyphs">2H</text>
<text x="729.4" y="93.25" font-size="10.2" text-anchor="end" textLength="6.1" lengthAdjust="spacingAndGlyphs">7</text>
<rect x="732.40" y="103.59" width="20.0" height="14.4" rx="7.2" ry="7.2" fill="none" stroke="#fff" stroke-width="1.6"/>
<text x="742.4" y="114.49" font-size="10.2" text-anchor="middle" textLength="14.0" lengthAdjust="spacingAndGlyphs">2B</text>
<text x="729.4" y="114.49" font-size="10.2" text-anchor="end" textLength="6.1" lengthAdjust="spacingAndGlyphs">6</text>
<rect x="732.40" y="124.28" width="20.0" height="14.4" rx="7.2" ry="7.2" fill="none" stroke="#fff" stroke-width="1.6"/>
<text x="742.4" y="135.18" font-size="10.2" text-anchor="middle" textLength="14.0" lengthAdjust="spacingAndGlyphs">2B</text>
<text x="729.4" y="135.18" font-size="10.2" text-anchor="end" textLength="6.1" lengthAdjust="spacingAndGlyphs">7</text>
<rect x="732.40" y="144.79" width="20.0" height="14.4" rx="7.2" ry="7.2" fill="none" stroke="#fff" stroke-width="1.6"/>
<text x="742.4" y="155.69" font-size="10.2" text-anchor="middle" textLength="14.0" lengthAdjust="spacingAndGlyphs">2M</text>
<text x="729.4" y="155.69" font-size="10.2" text-anchor="end" textLength="6.1" lengthAdjust="spacingAndGlyphs">1</text>
<rect x="732.40" y="165.67" width="20.0" height="14.4" rx="7.2" ry="7.2" fill="none" stroke="#fff" stroke-width="1.6"/>
<text x="742.4" y="176.57" font-size="10.2" text-anchor="middle" textLength="14.0" lengthAdjust="spacingAndGlyphs">2M</text>
<text x="729.4" y="176.57" font-size="10.2" text-anchor="end" textLength="6.1" lengthAdjust="spacingAndGlyphs">7</text>
<rect x="732.40" y="186.00" width="20.0" height="14.4" rx="7.2" ry="7.2" fill="none" stroke="#fff" stroke-width="1.6"/>
<text x="742.4" y="196.9" font-size="10.2" text-anchor="middle" textLength="14.0" lengthAdjust="spacingAndGlyphs">2G</text>
<text x="729.4" y="196.9" font-size="10.2" text-anchor="end" textLength="12.2" lengthAdjust="spacingAndGlyphs">24</text>
<rect x="732.40" y="206.79" width="20.0" height="14.4" rx="7.2" ry="7.2" fill="none" stroke="#fff" stroke-width="1.6"/>
<text x="742.4" y="217.69" font-size="10.2" text-anchor="middle" textLength="14.0" lengthAdjust="spacingAndGlyphs">2B</text>
<text x="729.4" y="217.69" font-size="10.2" text-anchor="end" textLength="6.1" lengthAdjust="spacingAndGlyphs">1</text>
<rect x="732.40" y="227.03" width="20.0" height="14.4" rx="7.2" ry="7.2" fill="none" stroke="#fff" stroke-width="1.6"/>
<text x="742.4" y="237.93" font-size="10.2" text-anchor="middle" textLength="14.0" lengthAdjust="spacingAndGlyphs">2B</text>
<text x="729.4" y="237.93" font-size="10.2" text-anchor="end" textLength="6.1" lengthAdjust="spacingAndGlyphs">2</text>
<rect x="732.40" y="247.81" width="20.0" height="14.4" rx="7.2" ry="7.2" fill="none" stroke="#fff" stroke-width="1.6"/>
<text x="742.4" y="258.71" font-size="10.2" text-anchor="middle" textLength="14.0" lengthAdjust="spacingAndGlyphs">2C</text>
<text x="729.4" y="258.71" font-size="10.2" text-anchor="end" textLength="6.1" lengthAdjust="spacingAndGlyphs">3</text>
<rect x="732.40" y="268.28" width="20.0" height="14.4" rx="7.2" ry="7.2" fill="none" stroke="#fff" stroke-width="1.6"/>
<text x="742.4" y="279.18" font-size="10.2" text-anchor="middle" textLength="14.0" lengthAdjust="spacingAndGlyphs">2H</text>
<text x="729.4" y="279.18" font-size="10.2" text-anchor="end" textLength="6.1" lengthAdjust="spacingAndGlyphs">3</text>
<rect x="732.40" y="288.75" width="20.0" height="14.4" rx="7.2" ry="7.2" fill="none" stroke="#fff" stroke-width="1.6"/>
<text x="742.4" y="299.65" font-size="10.2" text-anchor="middle" textLength="14.0" lengthAdjust="spacingAndGlyphs">2F</text>
<text x="729.4" y="299.65" font-size="10.2" text-anchor="end" textLength="6.1" lengthAdjust="spacingAndGlyphs">6</text>
<rect x="732.40" y="309.94" width="20.0" height="14.4" rx="7.2" ry="7.2" fill="none" stroke="#fff" stroke-width="1.6"/>
<text x="742.4" y="320.84" font-size="10.2" text-anchor="middle" textLength="14.0" lengthAdjust="spacingAndGlyphs">2A</text>
<text x="729.4" y="320.84" font-size="10.2" text-anchor="end" textLength="12.2" lengthAdjust="spacingAndGlyphs">12</text>
<rect x="732.40" y="330.32" width="20.0" height="14.4" rx="7.2" ry="7.2" fill="none" stroke="#fff" stroke-width="1.6"/>
<text x="742.4" y="341.22" font-size="10.2" text-anchor="middle" textLength="14.0" lengthAdjust="spacingAndGlyphs">2H</text>
<text x="729.4" y="341.22" font-size="10.2" text-anchor="end" textLength="12.2" lengthAdjust="spacingAndGlyphs">13</text>
<rect x="732.40" y="351.42" width="20.0" height="14.4" rx="7.2" ry="7.2" fill="none" stroke="#fff" stroke-width="1.6"/>
<text x="742.4" y="362.32" font-size="10.2" text-anchor="middle" textLength="14.0" lengthAdjust="spacingAndGlyphs">2A</text>
<text x="729.4" y="362.32" font-size="10.2" text-anchor="end" textLength="12.2" lengthAdjust="spacingAndGlyphs">11</text>
<rect x="732.40" y="371.88" width="20.0" height="14.4" rx="7.2" ry="7.2" fill="none" stroke="#fff" stroke-width="1.6"/>
<text x="742.4" y="382.78" font-size="10.2" text-anchor="middle" textLength="14.0" lengthAdjust="spacingAndGlyphs">2F</text>
<text x="729.4" y="382.78" font-size="10.2" text-anchor="end" textLength="6.1" lengthAdjust="spacingAndGlyphs">5</text>
<rect x="732.40" y="392.35" width="20.0" height="14.4" rx="7.2" ry="7.2" fill="none" stroke="#fff" stroke-width="1.6"/>
<text x="742.4" y="403.25" font-size="10.2" text-anchor="middle" textLength="14.0" lengthAdjust="spacingAndGlyphs">2F</text>
<text x="729.4" y="403.25" font-size="10.2" text-anchor="end" textLength="6.1" lengthAdjust="spacingAndGlyphs">9</text>
<rect x="732.40" y="413.68" width="20.0" height="14.4" rx="7.2" ry="7.2" fill="none" stroke="#fff" stroke-width="1.6"/>
<text x="742.4" y="424.58" font-size="10.2" text-anchor="middle" textLength="14.0" lengthAdjust="spacingAndGlyphs">2A</text>
<text x="729.4" y="424.58" font-size="10.2" text-anchor="end" textLength="6.1" lengthAdjust="spacingAndGlyphs">9</text>
<rect x="732.40" y="433.61" width="20.0" height="14.4" rx="7.2" ry="7.2" fill="none" stroke="#fff" stroke-width="1.6"/>
<text x="742.4" y="444.51" font-size="10.2" text-anchor="middle" textLength="14.0" lengthAdjust="spacingAndGlyphs">2A</text>
<text x="729.4" y="444.51" font-size="10.2" text-anchor="end" textLength="12.2" lengthAdjust="spacingAndGlyphs">10</text>
<rect x="732.40" y="454.75" width="20.0" height="14.4" rx="7.2" ry="7.2" fill="none" stroke="#fff" stroke-width="1.6"/>
<text x="742.4" y="465.65" font-size="10.2" text-anchor="middle" textLength="14.0" lengthAdjust="spacingAndGlyphs">2A</text>
<text x="729.4" y="465.65" font-size="10.2" text-anchor="end" textLength="6.1" lengthAdjust="spacingAndGlyphs">6</text>
<rect x="732.40" y="474.72" width="20.0" height="14.4" rx="7.2" ry="7.2" fill="none" stroke="#fff" stroke-width="1.6"/>
<text x="742.4" y="485.62" font-size="10.2" text-anchor="middle" textLength="14.0" lengthAdjust="spacingAndGlyphs">2A</text>
<text x="729.4" y="485.62" font-size="10.2" text-anchor="end" textLength="6.1" lengthAdjust="spacingAndGlyphs">5</text>
<rect x="732.40" y="495.69" width="20.0" height="14.4" rx="7.2" ry="7.2" fill="none" stroke="#fff" stroke-width="1.6"/>
<text x="742.4" y="506.59" font-size="10.2" text-anchor="middle" textLength="14.0" lengthAdjust="spacingAndGlyphs">2H</text>
<text x="729.4" y="506.59" font-size="10.2" text-anchor="end" textLength="6.1" lengthAdjust="spacingAndGlyphs">6</text>
<rect x="732.40" y="515.84" width="20.0" height="14.4" rx="7.2" ry="7.2" fill="none" stroke="#fff" stroke-width="1.6"/>
<text x="742.4" y="526.74" font-size="10.2" text-anchor="middle" textLength="14.0" lengthAdjust="spacingAndGlyphs">2L</text>
<text x="729.4" y="526.74" font-size="10.2" text-anchor="end" textLength="6.1" lengthAdjust="spacingAndGlyphs">1</text>
<rect x="732.40" y="557.86" width="20.0" height="14.4" rx="7.2" ry="7.2" fill="none" stroke="#fff" stroke-width="1.6"/>
<text x="742.4" y="568.76" font-size="10.2" text-anchor="middle" textLength="14.0" lengthAdjust="spacingAndGlyphs">2A</text>
<text x="729.4" y="568.76" font-size="10.2" text-anchor="end" textLength="6.1" lengthAdjust="spacingAndGlyphs">2</text>
<rect x="732.40" y="578.28" width="20.0" height="14.4" rx="7.2" ry="7.2" fill="none" stroke="#fff" stroke-width="1.6"/>
<text x="742.4" y="589.18" font-size="10.2" text-anchor="middle" textLength="14.0" lengthAdjust="spacingAndGlyphs">2K</text>
<text x="729.4" y="589.18" font-size="10.2" text-anchor="end" textLength="12.2" lengthAdjust="spacingAndGlyphs">11</text>
<rect x="732.40" y="599.52" width="20.0" height="14.4" rx="7.2" ry="7.2" fill="none" stroke="#fff" stroke-width="1.6"/>
<text x="742.4" y="610.42" font-size="10.2" text-anchor="middle" textLength="14.0" lengthAdjust="spacingAndGlyphs">2P</text>
<text x="729.4" y="610.42" font-size="10.2" text-anchor="end" textLength="6.1" lengthAdjust="spacingAndGlyphs">6</text>
<rect x="732.40" y="619.67" width="20.0" height="14.4" rx="7.2" ry="7.2" fill="none" stroke="#fff" stroke-width="1.6"/>
<text x="742.4" y="630.57" font-size="10.2" text-anchor="middle" textLength="14.0" lengthAdjust="spacingAndGlyphs">2M</text>
<text x="729.4" y="630.57" font-size="10.2" text-anchor="end" textLength="6.1" lengthAdjust="spacingAndGlyphs">6</text>
<rect x="732.40" y="660.34" width="20.0" height="14.4" rx="7.2" ry="7.2" fill="none" stroke="#fff" stroke-width="1.6"/>
<text x="742.4" y="671.24" font-size="10.2" text-anchor="middle" textLength="14.0" lengthAdjust="spacingAndGlyphs">2M</text>
<text x="729.4" y="671.24" font-size="10.2" text-anchor="end" textLength="6.1" lengthAdjust="spacingAndGlyphs">5</text>
<rect x="732.40" y="681.57" width="20.0" height="14.4" rx="7.2" ry="7.2" fill="none" stroke="#fff" stroke-width="1.6"/>
<text x="742.4" y="692.47" font-size="10.2" text-anchor="middle" textLength="14.0" lengthAdjust="spacingAndGlyphs">2Q</text>
<text x="729.4" y="692.47" font-size="10.2" text-anchor="end" textLength="6.1" lengthAdjust="spacingAndGlyphs">5</text>
<rect x="732.40" y="702.31" width="20.0" height="14.4" rx="7.2" ry="7.2" fill="none" stroke="#fff" stroke-width="1.6"/>
<text x="742.4" y="713.21" font-size="10.2" text-anchor="middle" textLength="14.0" lengthAdjust="spacingAndGlyphs">2K</text>
<text x="729.4" y="713.21" font-size="10.2" text-anchor="end" textLength="12.2" lengthAdjust="spacingAndGlyphs">13</text>
<rect x="732.40" y="722.78" width="20.0" height="14.4" rx="7.2" ry="7.2" fill="none" stroke="#fff" stroke-width="1.6"/>
<text x="742.4" y="733.68" font-size="10.2" text-anchor="middle" textLength="14.0" lengthAdjust="spacingAndGlyphs">2A</text>
<text x="729.4" y="733.68" font-size="10.2" text-anchor="end" textLength="6.1" lengthAdjust="spacingAndGlyphs">1</text>
</svg>
</body>
</html>
